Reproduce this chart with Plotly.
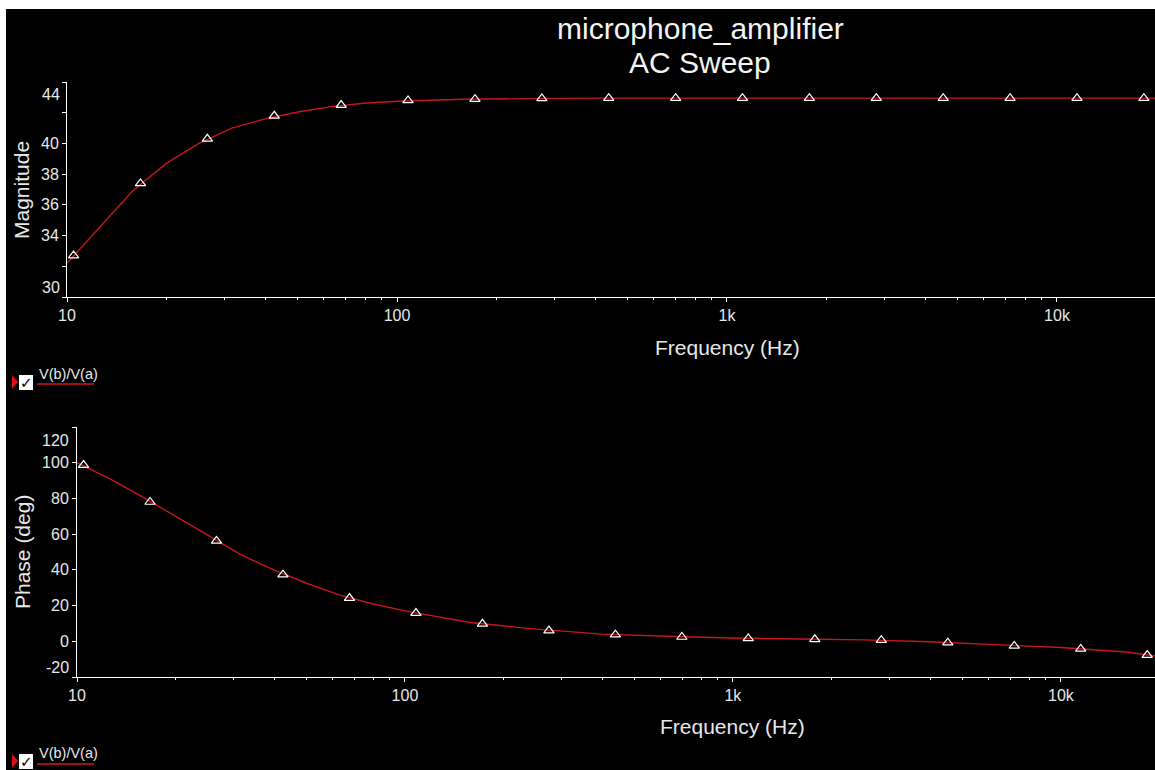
import plotly.graph_objects as go

# ---------------- data ----------------
mag_freq = [10, 12.6, 15.8, 20, 25.1, 31.6, 39.8, 50.1, 63.1, 79.4, 100, 158, 251, 398, 631, 1000, 2000, 5000, 10000, 20000]
mag_db = [32.2, 34.6, 36.9, 38.7, 40.0, 41.0, 41.6, 42.05, 42.4, 42.62, 42.75, 42.88, 42.93, 42.95, 42.95, 42.95, 42.95, 42.95, 42.95, 42.95]

phase_freq = [10, 12.6, 15.8, 20, 25.1, 31.6, 39.8, 50.1, 63.1, 79.4, 100, 158, 251, 398, 631, 1000, 1585, 2512, 3981, 6310, 10000, 15850, 20000]
phase_deg = [100, 91, 81, 70, 59, 48.5, 40, 32.5, 26, 21, 17, 10.5, 6.8, 4.0, 2.8, 1.8, 1.3, 0.8, -0.3, -2.0, -3.5, -6.0, -8.6]

marker_freq = [10.47, 16.70, 26.63, 42.47, 67.74, 108.0, 172.3, 274.8, 438.2, 698.9, 1114, 1777, 2834, 4520, 7209, 11497, 18336]
mag_marker_db = [32.7, 37.4, 40.3, 41.8, 42.5, 42.8, 42.88, 42.93, 42.95, 42.95, 42.95, 42.95, 42.95, 42.95, 42.95, 42.95, 42.95]
phase_marker_deg = [98.7, 78.0, 56.2, 37.3, 24.2, 15.8, 9.8, 6.0, 3.7, 2.4, 1.6, 1.1, 0.6, -0.8, -2.6, -4.3, -7.7]

x_tickvals = [10, 100, 1000, 10000]
x_ticktext = ["10", "100", "1k", "10k"]
x_minor = [20, 30, 40, 50, 60, 70, 80, 90, 200, 300, 400, 500, 600, 700, 800, 900,
           2000, 3000, 4000, 5000, 6000, 7000, 8000, 9000, 20000]
mag_tickvals = [30, 32, 34, 36, 38, 40, 42, 44]
mag_ticktext = ["", "", "34", "36", "38", "40", "", ""]
phase_tickvals = [-20, 0, 20, 40, 60, 80, 100, 120]
phase_ticktext = ["", "0", "20", "40", "60", "80", "100", ""]

title_line1 = "microphone_amplifier"
title_line2 = "AC Sweep"
legend_label = "V(b)/V(a)"

# ---------------- layout helpers ----------------
W, H = 1155, 770
FONT = "Arial, 'Liberation Sans', sans-serif"
LINE_RED = "#c8161d"
TXT = "#e8e8e8"


def px(x):
    return x / W


def py(y):
    return 1 - y / H


fig = go.Figure()

marker_style = dict(symbol="triangle-up-open", size=9, color="white", line=dict(width=1.2))

fig.add_trace(go.Scatter(x=mag_freq, y=mag_db, mode="lines", line=dict(color=LINE_RED, width=1.4),
                         xaxis="x", yaxis="y", showlegend=False, hoverinfo="skip"))
fig.add_trace(go.Scatter(x=marker_freq, y=mag_marker_db, mode="markers", marker=marker_style,
                         xaxis="x", yaxis="y", showlegend=False))
fig.add_trace(go.Scatter(x=phase_freq, y=phase_deg, mode="lines", line=dict(color=LINE_RED, width=1.4),
                         xaxis="x2", yaxis="y2", showlegend=False, hoverinfo="skip"))
fig.add_trace(go.Scatter(x=marker_freq, y=phase_marker_deg, mode="markers", marker=marker_style,
                         xaxis="x2", yaxis="y2", showlegend=False))

xaxis_common = dict(type="log", showgrid=False, zeroline=False, showline=True, linecolor="white", linewidth=1,
                    automargin=False,
                    ticks="outside", ticklen=4, tickcolor="white", tickvals=x_tickvals, ticktext=x_ticktext,
                    tickfont=dict(family=FONT, size=16, color=TXT),
                    minor=dict(tickvals=x_minor, ticks="outside", ticklen=2, tickcolor="white"))
yaxis_common = dict(showgrid=False, zeroline=False, showline=True, linecolor="white", linewidth=1,
                    automargin=False,
                    ticks="outside", ticklen=4, tickcolor="white",
                    tickfont=dict(family=FONT, size=16, color=TXT))

fig.update_layout(
    width=W, height=H, margin=dict(l=0, r=0, t=0, b=0, pad=0), autosize=False, showlegend=False,
    paper_bgcolor="white", plot_bgcolor="black",
    xaxis=dict(xaxis_common, domain=[px(67), 1], range=[1, 4.297], anchor="y"),
    yaxis=dict(yaxis_common, domain=[py(297), py(82)], range=[30, 44], anchor="x",
               tickvals=mag_tickvals, ticktext=mag_ticktext),
    xaxis2=dict(xaxis_common, domain=[px(77), 1], range=[1, 4.287], anchor="y2"),
    yaxis2=dict(yaxis_common, domain=[py(677), py(427)], range=[-20, 120], anchor="x2",
                tickvals=phase_tickvals, ticktext=phase_ticktext),
)

shapes = [
    dict(type="rect", xref="paper", yref="paper", x0=px(6), x1=1, y0=0, y1=py(9),
         fillcolor="black", line=dict(width=0), layer="below"),
]
annotations = []


def txt(text, x, y, size, color=TXT, xanchor="center", yanchor="middle", angle=0):
    annotations.append(dict(text=text, x=px(x), y=py(y), xref="paper", yref="paper", showarrow=False,
                            xanchor=xanchor, yanchor=yanchor, textangle=angle,
                            font=dict(family=FONT, size=size, color=color)))


# titles
txt(title_line1, 700, 28, 30, color="#f4f4f4")
txt(title_line2, 700, 62, 30, color="#f4f4f4")
# axis titles
txt("Frequency (Hz)", 727, 348, 21)
txt("Frequency (Hz)", 732, 726, 21)
txt("Magnitude", 22, 190, 21, angle=-90)
txt("Phase (deg)", 22, 552, 21, angle=-90)
# shifted end labels (PSpice style)
txt("44", 62, 94, 16, xanchor="right")
txt("30", 62, 287, 16, xanchor="right")
txt("120", 71, 440, 16, xanchor="right")
txt("-20", 71, 667, 16, xanchor="right")


def legend(ytext, yline, ybox):
    # red pointer triangle
    shapes.append(dict(type="path", xref="paper", yref="paper",
                       path=f"M {px(12)},{py(ybox)} L {px(18)},{py(ybox + 7)} L {px(12)},{py(ybox + 14)} Z",
                       fillcolor="#e01010", line=dict(width=0)))
    # white check box
    shapes.append(dict(type="rect", xref="paper", yref="paper", x0=px(19), x1=px(33),
                       y0=py(ybox + 15), y1=py(ybox), fillcolor="white", line=dict(width=0)))
    annotations.append(dict(text="<b>✓</b>", x=px(26), y=py(ybox + 8), xref="paper", yref="paper",
                            showarrow=False, xanchor="center", yanchor="middle",
                            font=dict(family="DejaVu Sans", size=15, color="black")))
    txt(legend_label, 37, ytext, 14.5, xanchor="left")
    shapes.append(dict(type="line", xref="paper", yref="paper", x0=px(37), x1=px(94),
                       y0=py(yline), y1=py(yline), line=dict(color="#d01818", width=1.5)))


legend(374, 384, 375)
legend(753, 764, 754)

fig.update_layout(shapes=shapes, annotations=annotations)

fig.write_html("out.html")
